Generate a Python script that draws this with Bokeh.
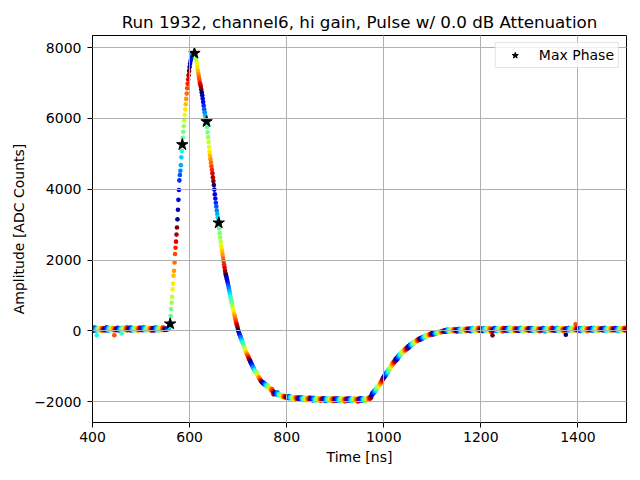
import numpy as np
from bokeh.plotting import figure
from bokeh.models import ColumnDataSource, Range1d, FixedTicker, Legend, LegendItem
from bokeh.embed import file_html
from bokeh.resources import INLINE

# digitizer samples every 25 ns, each scanned over 25 phase steps of 1 ns
sample_ns = 25
n_phases = 25
sample_starts = list(range(400, 1500, sample_ns))

# amplitude [ADC counts], one row per sample, one column per phase
pre_pulse = [
    [60, 25, 85, 10, 45, 95, 40, 5, 70, -125, 35, 60, 15, 90, 50, 30, 75, 40, 0, 65, 80, 25, 55, 20, 70],
    [45, 75, 15, 60, 100, 30, 50, 5, 85, 40, 65, 20, 70, 45, 90, 25, 60, 35, 80, 10, -120, 30, 70, 45, 55],
    [20, 65, 90, 35, 50, 10, 80, 45, 60, 25, -70, 55, 95, 30, 40, 70, 15, 85, 50, 30, 65, 100, 20, 45, 75],
    [55, 30, 70, 95, 15, 60, 40, 85, 20, 50, 75, 35, 5, 65, 90, 45, 25, 80, 55, 10, 70, 40, 95, 30, 60],
    [35, 80, 50, 20, 65, 105, 25, 55, 90, 40, 15, 70, 45, 85, 30, 60, 95, 20, 50, 75, 35, 65, 10, 80, 45],
    [70, 40, 15, 85, 50, 30, 95, 60, 25, 75, 45, 10, 65, 90, 35, 55, 80, 20, 60, 40, 100, 30, 70, 50, 25],
]
pulse = [
    [55, 40, 75, 30, 65, 50, 85, 60, 95, 140, 200, 420, 620, 800, 960, 1180, 1330, 1560, 1700, 1930, 2170, 2350, 2520, 2720, 2920],
    [3150, 3420, 3700, 3980, 4250, 4400, 4520, 4680, 4900, 5080, 5260, 5450, 5620, 5780, 5940, 6100, 6250, 6400, 6550, 6700, 6850, 6980, 7100, 7220, 7340],
    [7450, 7540, 7620, 7680, 7730, 7770, 7800, 7815, 7825, 7830, 7840, 7800, 7760, 7700, 7620, 7540, 7450, 7350, 7260, 7180, 7100, 7020, 6960, 6900, 6820],
    [6740, 6650, 6560, 6460, 6360, 6260, 6170, 6090, 6030, 5970, 5910, 5760, 5610, 5470, 5330, 5190, 5060, 4950, 4850, 4750, 4650, 4550, 4450, 4340, 4230],
    [4120, 3990, 3860, 3740, 3620, 3510, 3400, 3300, 3210, 3130, 3050, 2900, 2760, 2640, 2520, 2420, 2330, 2240, 2150, 2060, 1970, 1880, 1790, 1700, 1630],
    [1570, 1510, 1450, 1390, 1330, 1270, 1200, 1130, 1060, 980, 910, 840, 780, 720, 660, 600, 540, 470, 410, 350, 290, 240, 190, 140, 80],
    [20, -20, -60, -100, -130, -170, -210, -250, -280, -320, -350, -390, -430, -470, -510, -550, -590, -620, -650, -680, -710, -740, -770, -800, -830],
    [-860, -890, -920, -945, -975, -1005, -1035, -1065, -1095, -1115, -1135, -1155, -1175, -1195, -1220, -1245, -1270, -1295, -1320, -1345, -1370, -1390, -1410, -1425, -1440],
]
undershoot = [
    [-1455, -1480, -1460, -1500, -1490, -1520, -1500, -1540, -1530, -1560, -1540, -1575, -1560, -1600, -1590, -1630, -1610, -1660, -1650, -1690, -1640, -1720, -1700, -1790, -1740],
    [-1740, -1760, -1750, -1780, -1770, -1800, -1730, -1790, -1810, -1780, -1820, -1800, -1840, -1810, -1830, -1850, -1820, -1860, -1830, -1870, -1840, -1860, -1880, -1850, -1870],
    [-1850, -1880, -1860, -1890, -1870, -1840, -1900, -1870, -1880, -1860, -1900, -1880, -1910, -1870, -1890, -1920, -1880, -1900, -1870, -1910, -1890, -1930, -1880, -1900, -1920],
    [-1900, -1880, -1920, -1890, -1940, -1900, -1870, -1920, -1900, -1950, -1910, -1890, -1930, -1900, -1920, -1960, -1910, -1890, -1940, -1920, -1900, -1950, -1920, -1880, -1930],
    [-1910, -1940, -1900, -1960, -1920, -1890, -1950, -1930, -1910, -1970, -1920, -1940, -1900, -1950, -1930, -1910, -1960, -1940, -1900, -1930, -1970, -1920, -1950, -1910, -1940],
    [-1930, -1900, -1960, -1920, -1950, -1980, -1910, -1940, -1920, -1960, -1900, -1950, -1930, -1970, -1910, -1940, -1960, -1920, -1950, -1900, -1940, -1980, -1930, -1910, -1960],
    [-1920, -1950, -1910, -1970, -1930, -1900, -1960, -1940, -1980, -1920, -1950, -1910, -1960, -1940, -1900, -1970, -1930, -1950, -1920, -1960, -1990, -1930, -1910, -1950, -1940],
    [-1960, -1920, -1950, -1900, -1970, -1940, -1910, -1960, -1930, -1980, -1920, -1950, -1940, -1900, -1960, -1930, -1970, -1910, -1950, -1920, -1960, -1940, -1990, -1930, -1910],
    [-1950, -1920, -1960, -1900, -1940, -1970, -1920, -1950, -1910, -1940, -1960, -1920, -1950, -1980, -1930, -1910, -1950, -1920, -1890, -1940, -1900, -1870, -1910, -1860, -1880],
]
recovery = [
    [-1810, -1770, -1790, -1730, -1750, -1700, -1720, -1670, -1690, -1630, -1650, -1600, -1620, -1560, -1580, -1530, -1540, -1480, -1500, -1440, -1450, -1390, -1400, -1340, -1350],
    [-1290, -1310, -1250, -1270, -1200, -1230, -1160, -1190, -1120, -1150, -1080, -1110, -1040, -1070, -990, -1020, -950, -980, -910, -940, -880, -900, -850, -870, -810],
    [-790, -830, -760, -790, -720, -750, -690, -720, -660, -690, -630, -660, -600, -630, -570, -600, -550, -580, -520, -550, -500, -530, -480, -500, -460],
    [-440, -480, -420, -440, -390, -420, -380, -400, -350, -380, -330, -360, -320, -340, -290, -320, -280, -300, -260, -280, -240, -270, -230, -250, -220],
    [-210, -240, -200, -220, -180, -210, -170, -190, -160, -180, -140, -170, -130, -150, -120, -140, -110, -130, -100, -120, -90, -110, -80, -100, -70],
    [-80, -100, -70, -90, -60, -85, -50, -75, -45, -65, -40, -60, -30, -55, -25, -45, -20, -40, -10, -35, -5, -25, 0, -20, 5],
]
post_pulse = [
    [-10, 20, -20, 10, 30, -15, 25, 0, 40, -5, 15, 35, -20, 10, 45, 5, 25, -10, 30, 15, 50, -5, 20, 40, 0],
    [25, -15, 45, 10, 30, 60, -5, 35, 15, 50, -20, 25, 40, 5, 65, 20, -10, 45, 30, 55, 0, 35, 70, 15, 40],
    [10, 45, 25, 70, -10, 35, 55, 20, 80, 5, 40, 60, 15, 30, 75, -15, 50, 25, 65, 10, 45, 85, 20, 35, 0],
    [50, 20, 70, 35, -5, 60, 30, 85, 15, 45, 65, 0, 40, 75, 25, 55, -10, 35, 80, 20, 60, 40, -20, 30, -125],
    [30, 65, 10, 50, 85, 25, 45, -5, 70, 35, 15, 60, 90, 20, 40, 75, 5, 55, 30, 65, -15, 45, 80, 25, 50],
    [15, 55, 35, 80, 0, 45, 70, 20, 60, 35, 95, 10, 50, 25, 75, 40, -10, 60, 30, 85, 15, 45, 65, 5, 40],
    [60, 25, 45, 0, 75, 35, 55, 90, 15, 40, 65, 20, 50, -5, 80, 30, 60, 10, 45, 70, 25, 55, 35, 85, 10],
    [35, 70, 15, 50, 30, 85, 5, 60, 40, 20, 75, 45, 0, 65, 25, 90, 35, 55, 15, 70, 40, -10, 60, 30, 50],
    [45, 10, 65, 35, 80, 20, 50, -15, 70, 40, 25, 60, 85, 15, 45, 30, 75, 5, 55, 35, 65, 20, 90, 40, 10],
    [25, 60, 40, 5, 70, 30, 55, 85, 15, 45, 65, 35, 0, 75, 25, 50, 80, 20, 60, 40, -5, 55, 30, 70, 45],
    [-110, 40, 75, 20, 55, 30, 90, 10, 45, 65, 25, 50, 80, 5, 35, 60, 15, 70, 40, 20, 185, 30, 85, 20, 45],
    [50, 15, 60, 35, 75, 0, 45, 85, 25, 55, 10, 70, 40, 95, 20, 50, 30, 65, -10, 45, 75, 15, 55, 35, 60],
    [20, 55, 30, 80, 45, 5, 65, 35, 90, 15, 50, 25, 70, 40, -5, 60, 30, 85, 10, 45, 65, 25, 50, 75, 35],
    [40, 70, 10, 50, 30, 85, 20, 60, 45, 0, 75, 35, 55, 15, 90, 40, 25, 65, 5, 50, 80, 30, 60, 20, 45],
    [65, 25, 45, 80, 15, 55, 35, 70, -10, 40, 60, 20, 85, 30, 50, 5, 75, 45, 25, 65, 35, 90, 15, 55, 40],
]

# the phase with the largest peak
max_phase_time = [560, 585, 610, 635, 660]
max_phase_amp = [200, 5260, 7840, 5910, 3050]

x_ticks = [400, 600, 800, 1000, 1200, 1400]
y_ticks = [-2000, 0, 2000, 4000, 6000, 8000]


def jet(v):
    # matplotlib's "jet" colormap
    r = np.interp(v, [0, 0.35, 0.66, 0.89, 1], [0, 0, 1, 1, 0.5])
    g = np.interp(v, [0, 0.125, 0.375, 0.64, 0.91, 1], [0, 0, 1, 1, 0, 0])
    b = np.interp(v, [0, 0.11, 0.34, 0.65, 1], [0.5, 1, 1, 0, 0])
    return "#%02x%02x%02x" % (int(r * 255), int(g * 255), int(b * 255))


rows = pre_pulse + pulse + undershoot + recovery + post_pulse
t, amp, col = [], [], []
for start, row in zip(sample_starts, rows):
    for k, a in enumerate(row):
        t.append(start + k)
        amp.append(a)
        col.append(jet(k / (n_phases - 1)))
src = ColumnDataSource(dict(t=t, amp=amp, color=col))

FONT = "DejaVu Sans"

p = figure(width=634, height=472, output_backend="svg", toolbar_location=None,
           x_range=Range1d(400, 1500), y_range=Range1d(-2585, 8340),
           min_border_left=92, min_border_right=8, min_border_top=35, min_border_bottom=50,
           title="Run 1932, channel6, hi gain, Pulse w/ 0.0 dB Attenuation",
           background_fill_color="white", border_fill_color="white")

p.scatter("t", "amp", source=src, size=4.6, fill_color="color", line_color=None)
stars = p.scatter(max_phase_time, max_phase_amp, marker="star", size=12,
                  fill_color="black", line_color="black")

p.title.align = "center"
p.title.text_font = FONT
p.title.text_font_size = "16.7px"
p.title.text_font_style = "normal"
p.title.text_color = "black"
p.title.standoff = 7

p.xaxis.ticker = FixedTicker(ticks=x_ticks)
p.yaxis.ticker = FixedTicker(ticks=y_ticks)
p.yaxis.major_label_overrides = {-2000: "\u22122000"}
p.xaxis.axis_label = "Time [ns]"
p.yaxis.axis_label = "Amplitude [ADC Counts]"
for ax in (p.xaxis, p.yaxis):
    ax.axis_label_text_font = FONT
    ax.axis_label_text_font_size = "14px"
    ax.axis_label_text_font_style = "normal"
    ax.axis_label_text_color = "black"
    ax.major_label_text_font = FONT
    ax.major_label_text_font_size = "14px"
    ax.major_label_text_color = "black"
    ax.axis_line_color = "black"
    ax.major_tick_line_color = "black"
    ax.major_tick_out = 5
    ax.major_tick_in = 0
    ax.minor_tick_line_color = None
    ax.axis_label_standoff = 4
p.xaxis.major_label_standoff = 4
p.yaxis.major_label_standoff = 6

p.outline_line_color = "black"
p.outline_line_alpha = 1
p.outline_line_width = 1

p.grid.grid_line_color = "#b0b0b0"
p.grid.grid_line_width = 1
p.grid.level = "guide"

legend = Legend(items=[LegendItem(label="Max Phase", renderers=[stars])],
                location="top_right", margin=7, padding=4, glyph_width=30,
                label_height=16, glyph_height=16, label_standoff=9,
                label_text_font=FONT, label_text_font_size="14px",
                label_text_color="black",
                border_line_color="#cccccc", background_fill_alpha=0.8)
p.add_layout(legend)

open("out.html", "w").write(file_html(p, INLINE))
